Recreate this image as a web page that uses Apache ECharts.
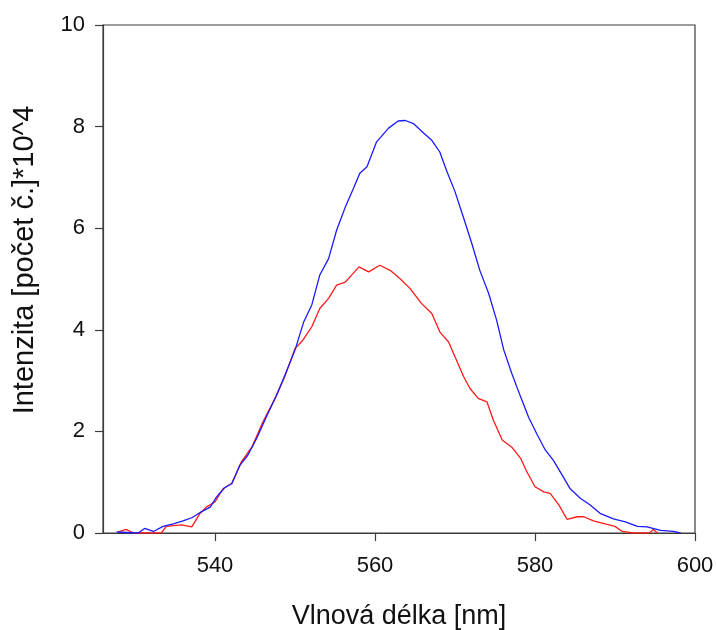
<!DOCTYPE html>
<html>
<head>
<meta charset="utf-8">
<script src="https://cdn.jsdelivr.net/npm/echarts@6/dist/echarts.min.js"></script>
<style>html,body{margin:0;padding:0;background:#fff}#c{width:717px;height:630px}</style>
</head>
<body>
<div id="c"></div>
<script>
const xTicks = [540, 560, 580, 600];
const blueX = [527.7,530.4,531.2,532.3,533.5,534.8,536.0,537.1,538.1,539.4,540.2,541.2,542.1,543.1,544.1,545.2,546.4,547.7,548.9,550.0,551.1,552.1,553.1,554.2,555.2,556.3,557.3,558.1,559.0,560.2,561.7,562.9,563.8,564.8,566.1,567.1,568.1,569.0,570.0,571.1,572.1,573.1,574.2,575.2,576.1,577.1,578.2,579.2,580.2,581.3,582.3,583.4,584.4,585.7,586.9,588.2,589.8,591.3,592.8,594.0,595.7,597.3,598.2];
const blueY = [0.02,0.0,0.09,0.03,0.13,0.18,0.24,0.30,0.40,0.51,0.71,0.89,0.97,1.33,1.53,1.86,2.28,2.71,3.17,3.60,4.16,4.49,5.08,5.40,5.96,6.42,6.78,7.08,7.21,7.70,7.97,8.11,8.12,8.06,7.87,7.73,7.50,7.11,6.72,6.19,5.70,5.17,4.72,4.19,3.60,3.14,2.68,2.28,1.96,1.63,1.43,1.14,0.87,0.68,0.55,0.38,0.28,0.22,0.13,0.12,0.05,0.03,0.0];
const redX = [527.9,528.9,529.8,533.3,533.9,535.8,537.1,538.1,538.9,540.0,541.0,542.1,543.3,544.6,546.0,547.5,548.7,550.0,551.0,552.1,553.1,554.2,555.2,556.3,557.1,558.0,559.2,560.6,561.9,563.1,564.4,565.8,567.1,568.1,569.2,570.0,571.1,571.9,572.9,574.0,574.8,575.9,577.1,578.2,579.0,580.0,581.1,581.9,583.0,584.0,585.3,586.1,587.3,589.0,590.0,590.9,592.3,594.3,594.8,595.3];
const redY = [0.02,0.07,0.0,0.0,0.13,0.16,0.12,0.38,0.51,0.61,0.87,0.98,1.40,1.69,2.19,2.65,3.07,3.63,3.80,4.06,4.42,4.62,4.88,4.94,5.08,5.24,5.14,5.27,5.17,5.01,4.81,4.52,4.32,3.96,3.76,3.47,3.07,2.84,2.65,2.58,2.22,1.83,1.69,1.47,1.20,0.91,0.81,0.78,0.55,0.27,0.32,0.32,0.24,0.17,0.13,0.03,0.0,0.0,0.07,0.0];

const zip = (xs, ys) => xs.map((x, i) => [x, ys[i]]);
const axisCol = '#3c3c3c';
const txtCol = '#111';
const chart = echarts.init(document.getElementById('c'), null, {renderer: 'canvas'});
chart.setOption({
  animation: false,
  backgroundColor: '#fff',
  grid: {left: 103, right: 22, top: 25, bottom: 97, show: true, borderColor: axisCol, borderWidth: 1.2, containLabel: false, outerBoundsMode: 'none'},
  xAxis: {
    type: 'value', min: 526, max: 600,
    name: 'Vlnová délka [nm]', nameLocation: 'middle', nameGap: 70,
    nameTextStyle: {fontFamily: 'Liberation Sans', fontSize: 27, color: txtCol},
    axisLine: {show: true, lineStyle: {color: axisCol, width: 1.2}},
    axisTick: {show: true, inside: false, length: 8, customValues: xTicks, lineStyle: {color: axisCol, width: 1.2}},
    axisLabel: {customValues: xTicks, fontFamily: 'Liberation Sans', fontSize: 22, color: txtCol, margin: 22},
    splitLine: {show: false}
  },
  yAxis: {
    type: 'value', min: 0, max: 10, interval: 2,
    name: 'Intenzita [počet č.]*10^4', nameLocation: 'middle', nameGap: 64,
    nameTextStyle: {fontFamily: 'Liberation Sans', fontSize: 29, color: txtCol, padding: [0, 0, 0, 38]},
    axisLine: {show: true, lineStyle: {color: axisCol, width: 1.2}},
    axisTick: {show: true, inside: false, length: 8, lineStyle: {color: axisCol, width: 1.2}},
    axisLabel: {fontFamily: 'Liberation Sans', fontSize: 22, color: txtCol, margin: 18},
    splitLine: {show: false}
  },
  series: [
    {type: 'line', data: zip(blueX, blueY), showSymbol: false, lineStyle: {color: '#1a1aff', width: 1.3}, itemStyle: {color: '#1a1aff'}, z: 3},
    {type: 'line', data: zip(redX, redY), showSymbol: false, lineStyle: {color: '#ff1a1a', width: 1.3}, itemStyle: {color: '#ff1a1a'}, z: 2}
  ]
});
</script>
</body>
</html>
